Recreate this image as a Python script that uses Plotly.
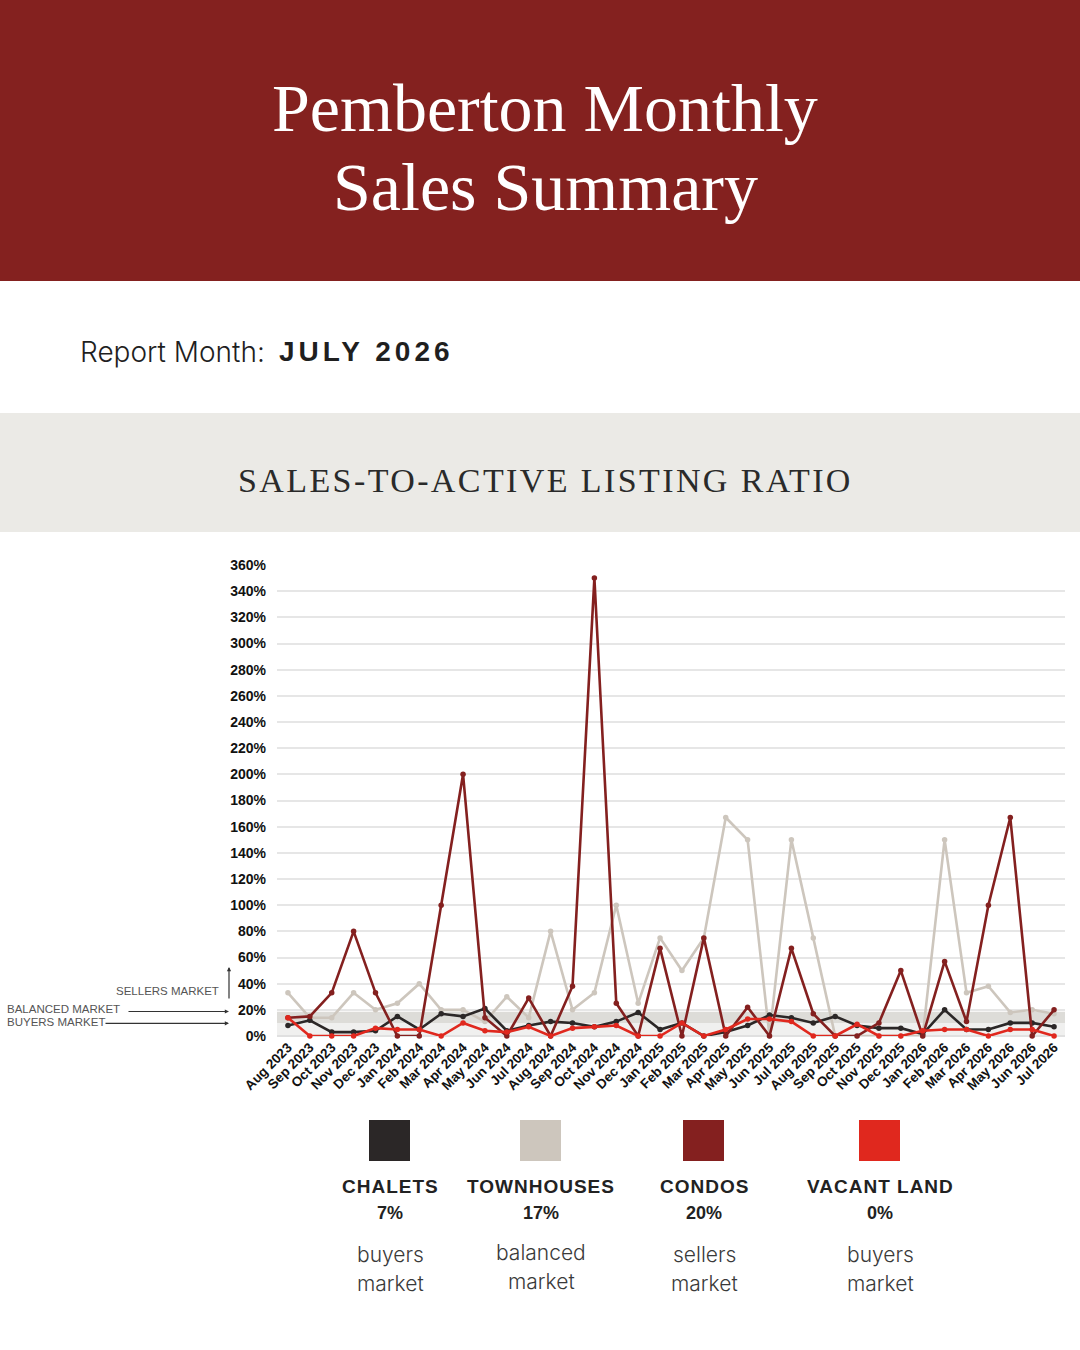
import plotly.graph_objects as go

W, H = 1080, 1350

months = ["Aug 2023", "Sep 2023", "Oct 2023", "Nov 2023", "Dec 2023", "Jan 2024",
          "Feb 2024", "Mar 2024", "Apr 2024", "May 2024", "Jun 2024", "Jul 2024",
          "Aug 2024", "Sep 2024", "Oct 2024", "Nov 2024", "Dec 2024", "Jan 2025",
          "Feb 2025", "Mar 2025", "Apr 2025", "May 2025", "Jun 2025", "Jul 2025",
          "Aug 2025", "Sep 2025", "Oct 2025", "Nov 2025", "Dec 2025", "Jan 2026",
          "Feb 2026", "Mar 2026", "Apr 2026", "May 2026", "Jun 2026", "Jul 2026"]

chalets = [8, 12, 3, 3, 4, 15, 5, 17, 15, 21, 4, 8, 11, 10, 7, 11, 18, 5,
           10, 0, 3, 8, 16, 14, 10, 15, 8, 6, 6, 1.5, 20, 5, 5, 10, 10, 7]
townhouses = [33, 14, 14, 33, 20, 25, 40, 20, 20, 11, 30, 14, 80, 20, 33, 100, 25, 75,
              50, 75, 167, 150, 0, 150, 75, 0, 0, 0, 0, 0, 150, 33, 38, 18, 20, 17]
condos = [14, 15, 33, 80, 33, 0, 0, 100, 200, 14, 0, 29, 0, 38, 350, 25, 0, 67,
          0, 75, 0, 22, 0, 67, 17, 0, 0, 10, 50, 0, 57, 11, 100, 167, 0, 20]
vacant_land = [14, 0, 0, 0, 6, 5, 5, 0, 10, 4, 3, 7, 0, 6, 7, 8, 0, 0,
               10, 0, 5, 13, 13, 11, 0, 0, 9, 0, 0, 4, 5, 5, 0, 5, 5, 0]

series_names = ["CHALETS", "TOWNHOUSES", "CONDOS", "VACANT LAND"]
series_colors = ["#2b2727", "#cdc6bd", "#84201f", "#e0281e"]
summary_pct = ["7%", "17%", "20%", "0%"]
summary_line1 = ["buyers", "balanced", "sellers", "buyers"]
summary_line2 = ["market", "market", "market", "market"]

y_ticks = [0, 20, 40, 60, 80, 100, 120, 140, 160, 180, 200, 220, 240, 260, 280,
           300, 320, 340, 360]
y_tick_labels = ["0%", "20%", "40%", "60%", "80%", "100%", "120%", "140%", "160%",
                 "180%", "200%", "220%", "240%", "260%", "280%", "300%", "320%",
                 "340%", "360%"]

def px(x):
    return x / W

def py(y):
    return 1 - y / H

fig = go.Figure()

draw_order = [(townhouses, 1), (chalets, 0), (condos, 2), (vacant_land, 3)]
for vals, idx in draw_order:
    fig.add_trace(go.Scatter(
        x=months, y=vals, mode="lines+markers", name=series_names[idx],
        line=dict(color=series_colors[idx], width=2.6),
        marker=dict(color=series_colors[idx], size=5.5),
        cliponaxis=False, showlegend=False, hoverinfo="x+y",
    ))

shapes = [
    dict(type="rect", xref="paper", yref="paper", x0=0, x1=1, y0=py(281), y1=1,
         fillcolor="#84211f", line=dict(width=0), layer="below"),
    dict(type="rect", xref="paper", yref="paper", x0=0, x1=1, y0=py(532), y1=py(413),
         fillcolor="#ebeae6", line=dict(width=0), layer="below"),
    dict(type="rect", xref="paper", yref="y", x0=px(277), x1=px(1065), y0=0, y1=10,
         fillcolor="#f0f0ef", line=dict(width=0), layer="below"),
    dict(type="rect", xref="paper", yref="y", x0=px(277), x1=px(1065), y0=10, y1=18.5,
         fillcolor="#dddcd8", line=dict(width=0), layer="below"),
]

legend_cx = [390, 541, 704, 880]
for i, cx in enumerate(legend_cx):
    shapes.append(dict(type="rect", xref="paper", yref="paper",
                       x0=px(cx - 21), x1=px(cx + 20), y0=py(1161), y1=py(1120),
                       fillcolor=series_colors[i], line=dict(width=0)))

annotations = [
    dict(text="Pemberton Monthly", x=px(545), y=py(108), xref="paper", yref="paper",
         showarrow=False, xanchor="center", yanchor="middle",
         font=dict(family="Liberation Serif", size=68, color="#ffffff")),
    dict(text="Sales Summary", x=px(545), y=py(187), xref="paper", yref="paper",
         showarrow=False, xanchor="center", yanchor="middle",
         font=dict(family="Liberation Serif", size=68, color="#ffffff")),
    dict(text="Report Month:", x=px(78), y=py(352), xref="paper", yref="paper",
         showarrow=False, xanchor="left", yanchor="middle",
         font=dict(family="Inter", size=28, color="#1f1f1f", weight=300)),
    dict(text="<span style='letter-spacing:4px'>JULY 2026</span>", x=px(277), y=py(352),
         xref="paper", yref="paper", showarrow=False, xanchor="left", yanchor="middle",
         font=dict(family="Liberation Sans", size=28, color="#1f1f1f", weight="bold")),
    dict(text="<span style='letter-spacing:2.4px'>SALES-TO-ACTIVE LISTING RATIO</span>",
         x=px(545), y=py(480), xref="paper", yref="paper", showarrow=False,
         xanchor="center", yanchor="middle",
         font=dict(family="Liberation Serif", size=34, color="#2a2a2a")),
    dict(text="SELLERS MARKET", x=px(221), y=py(991), xref="paper", yref="paper",
         showarrow=False, xanchor="right", yanchor="middle",
         font=dict(family="Liberation Sans", size=11.5, color="#555555")),
    dict(text="BALANCED MARKET", x=px(5), y=py(1009), xref="paper", yref="paper",
         showarrow=False, xanchor="left", yanchor="middle",
         font=dict(family="Liberation Sans", size=11.5, color="#555555")),
    dict(text="BUYERS MARKET", x=px(5), y=py(1021.5), xref="paper", yref="paper",
         showarrow=False, xanchor="left", yanchor="middle",
         font=dict(family="Liberation Sans", size=11.5, color="#555555")),
    dict(text="", x=px(229), y=py(967), xref="paper", yref="paper", showarrow=True,
         ax=0, ay=33, arrowhead=2, arrowsize=0.7, arrowwidth=1.2, arrowcolor="#333333"),
    dict(text="", x=px(229), y=py(1011.5), xref="paper", yref="paper", showarrow=True,
         ax=-102, ay=0, arrowhead=2, arrowsize=0.7, arrowwidth=1.2, arrowcolor="#333333"),
    dict(text="", x=px(229), y=py(1023.3), xref="paper", yref="paper", showarrow=True,
         ax=-125, ay=0, arrowhead=2, arrowsize=0.7, arrowwidth=1.2, arrowcolor="#333333"),
]

for i, cx in enumerate(legend_cx):
    annotations.append(dict(
        text="<span style='letter-spacing:1px'>%s</span>" % series_names[i],
        x=px(cx), y=py(1186), xref="paper", yref="paper", showarrow=False,
        xanchor="center", yanchor="middle",
        font=dict(family="Liberation Sans", size=19, color="#222222", weight="bold")))
    annotations.append(dict(
        text=summary_pct[i], x=px(cx), y=py(1213), xref="paper", yref="paper",
        showarrow=False, xanchor="center", yanchor="middle",
        font=dict(family="Liberation Sans", size=18, color="#222222", weight="bold")))
    off = -2 if i == 1 else 0
    annotations.append(dict(
        text=summary_line1[i], x=px(cx), y=py(1254 + off), xref="paper", yref="paper",
        showarrow=False, xanchor="center", yanchor="middle",
        font=dict(family="Inter", size=21, color="#3a3a3a", weight=300)))
    annotations.append(dict(
        text=summary_line2[i], x=px(cx), y=py(1283 + off), xref="paper", yref="paper",
        showarrow=False, xanchor="center", yanchor="middle",
        font=dict(family="Inter", size=21, color="#3a3a3a", weight=300)))

fig.update_layout(
    width=W, height=H,
    margin=dict(l=0, r=0, t=0, b=0, pad=0, autoexpand=False),
    paper_bgcolor="#ffffff", plot_bgcolor="#ffffff",
    shapes=shapes, annotations=annotations,
    xaxis=dict(type="category", domain=[px(277), px(1065)], range=[-0.5, 35.5],
               tickangle=-45, showgrid=False, zeroline=False, showline=False,
               automargin=False,
               ticks="", tickfont=dict(family="Liberation Sans", size=13.5,
                                       color="#111111", weight="bold"),
               fixedrange=True),
    yaxis=dict(domain=[py(1036), py(565)], range=[0, 360], tickmode="array",
               tickvals=y_ticks, ticktext=y_tick_labels, automargin=False,
               showgrid=True, gridcolor="#e6e6e6", gridwidth=1.5,
               zeroline=True, zerolinecolor="#e0e0e0", zerolinewidth=1.5,
               showline=False, ticks="", ticklabelstandoff=10,
               tickfont=dict(family="Liberation Sans", size=14, color="#111111",
                             weight="bold"),
               fixedrange=True),
    hovermode="closest",
)

fig.write_html(
    "out.html",
    config={"displayModeBar": False},
    post_script="document.body.style.margin='0';document.body.style.padding='0';",
)
